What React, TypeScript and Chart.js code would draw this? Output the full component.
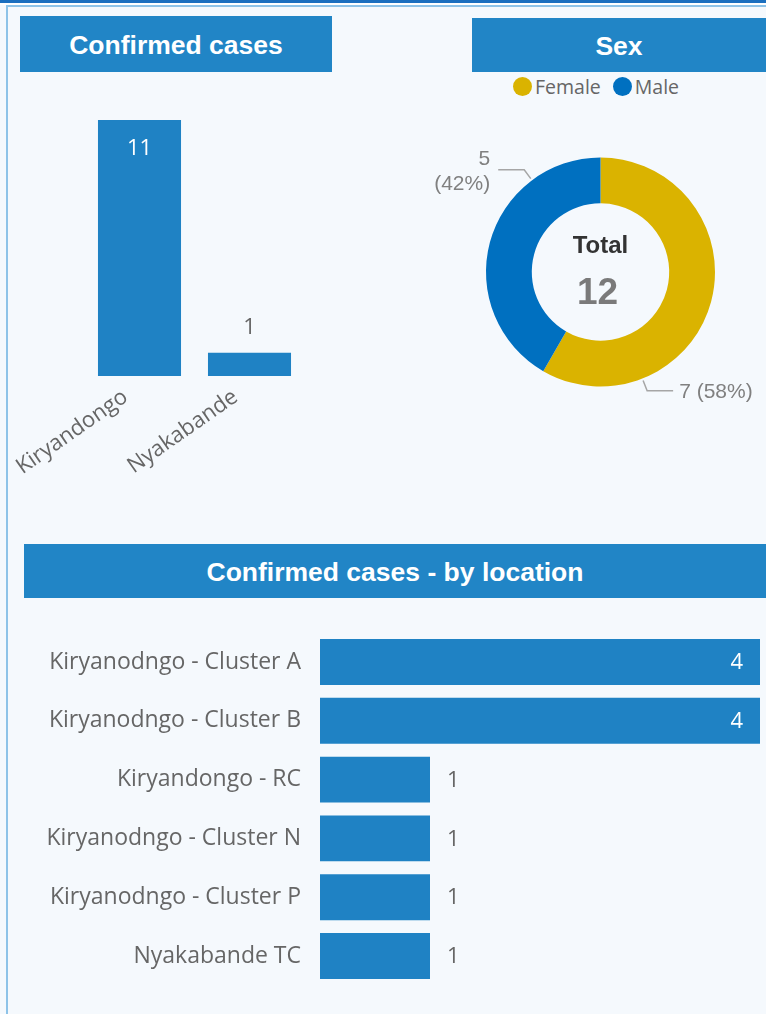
import React, { useEffect, useRef } from "react";
import { Chart, registerables } from "chart.js";

Chart.register(...registerables);

const areaLabels = ["Kiryandongo", "Nyakabande"];
const areaCases = [11, 1];

const sexLabels = ["Female", "Male"];
const sexCases = [7, 5];
const sexColors = ["#dab300", "#0070c0"];

const locationLabels = [
  "Kiryanodngo - Cluster A",
  "Kiryanodngo - Cluster B",
  "Kiryandongo - RC",
  "Kiryanodngo - Cluster N",
  "Kiryanodngo - Cluster P",
  "Nyakabande TC",
];
const locationCases = [4, 4, 1, 1, 1, 1];

const BAR = "#1f82c4";
const HEAD = "#2185c6";
const BG = "#f5f9fd";
const UI_FONT = "'Open Sans', 'Noto Sans', sans-serif";
const HEAD_FONT = "'Liberation Sans', Arial, sans-serif";

const columnLabels = {
  id: "columnLabels",
  afterDatasetsDraw(chart: any) {
    const ctx = chart.ctx;
    const meta = chart.getDatasetMeta(0);
    const data = chart.data.datasets[0].data;
    ctx.save();
    ctx.font = `22px ${UI_FONT}`;
    ctx.textAlign = "center";
    ctx.textBaseline = "middle";
    meta.data.forEach((bar: any, i: number) => {
      const h = bar.base - bar.y;
      if (h > 60) {
        ctx.fillStyle = "#ffffff";
        ctx.fillText(String(data[i]), bar.x, bar.y + 29);
      } else {
        ctx.fillStyle = "#666666";
        ctx.fillText(String(data[i]), bar.x, bar.y - 25);
      }
    });
    ctx.restore();
  },
};

const rowLabels = {
  id: "rowLabels",
  afterDatasetsDraw(chart: any) {
    const ctx = chart.ctx;
    const meta = chart.getDatasetMeta(0);
    const data = chart.data.datasets[0].data;
    ctx.save();
    ctx.font = `22px ${UI_FONT}`;
    ctx.textBaseline = "middle";
    meta.data.forEach((bar: any, i: number) => {
      const w = bar.x - bar.base;
      if (w > 200) {
        ctx.fillStyle = "#ffffff";
        ctx.textAlign = "right";
        ctx.fillText(String(data[i]), bar.x - 17, bar.y + 1);
      } else {
        ctx.fillStyle = "#666666";
        ctx.textAlign = "left";
        ctx.fillText(String(data[i]), bar.x + 17, bar.y + 1);
      }
    });
    ctx.restore();
  },
};

const donutDecor = {
  id: "donutDecor",
  afterDatasetsDraw(chart: any) {
    const ctx = chart.ctx;
    const meta = chart.getDatasetMeta(0);
    const data: number[] = chart.data.datasets[0].data;
    const total = data.reduce((a, b) => a + b, 0);
    ctx.save();
    meta.data.forEach((arc: any, i: number) => {
      const a = arc.startAngle + 0.755 * (arc.endAngle - arc.startAngle);
      const R = arc.outerRadius;
      const cx = arc.x;
      const cy = arc.y;
      const x1 = cx + Math.cos(a) * (R + 2);
      const y1 = cy + Math.sin(a) * (R + 2);
      const x2 = cx + Math.cos(a) * (R + 13);
      const y2 = cy + Math.sin(a) * (R + 13);
      const dir = Math.cos(a) < 0 ? -1 : 1;
      const x3 = x2 + dir * 26;
      ctx.strokeStyle = "#a6a6a6";
      ctx.lineWidth = 1.5;
      ctx.beginPath();
      ctx.moveTo(x1, y1);
      ctx.lineTo(x2, y2);
      ctx.lineTo(x3, y2);
      ctx.stroke();
      const pct = Math.round((data[i] / total) * 100);
      ctx.fillStyle = "#808080";
      ctx.font = `21px ${HEAD_FONT}`;
      ctx.textBaseline = "middle";
      if (dir < 0) {
        ctx.textAlign = "right";
        ctx.fillText(String(data[i]), x3 - 8, y2 - 11);
        ctx.fillText(`(${pct}%)`, x3 - 8, y2 + 14);
      } else {
        ctx.textAlign = "left";
        ctx.fillText(`${data[i]} (${pct}%)`, x3 + 6, y2 + 2);
      }
    });
    const first = meta.data[0];
    if (first) {
      ctx.textAlign = "center";
      ctx.textBaseline = "middle";
      ctx.fillStyle = "#333333";
      ctx.font = `bold 24px ${HEAD_FONT}`;
      ctx.fillText("Total", first.x, first.y - 26);
      ctx.fillStyle = "#7a7a7a";
      ctx.font = `bold 37px ${HEAD_FONT}`;
      ctx.fillText(String(total), first.x - 3, first.y + 22);
    }
    ctx.restore();
  },
};

function Header({ left, top, width, height, text }: any) {
  return (
    <div
      style={{
        position: "absolute",
        left,
        top,
        width,
        height,
        boxSizing: "border-box",
        paddingTop: 3,
        background: HEAD,
        color: "#ffffff",
        fontFamily: HEAD_FONT,
        fontWeight: "bold",
        fontSize: 26.5,
        display: "flex",
        alignItems: "center",
        justifyContent: "center",
      }}
    >
      {text}
    </div>
  );
}

export default function App() {
  const c1 = useRef<HTMLCanvasElement>(null);
  const c2 = useRef<HTMLCanvasElement>(null);
  const c3 = useRef<HTMLCanvasElement>(null);

  useEffect(() => {
    const charts: Chart[] = [];
    charts.push(
      new Chart(c1.current as HTMLCanvasElement, {
        type: "bar",
        data: {
          labels: areaLabels,
          datasets: [
            {
              data: areaCases,
              backgroundColor: BAR,
              barPercentage: 0.755,
              categoryPercentage: 1,
            },
          ],
        },
        options: {
          responsive: false,
          animation: false,
          layout: { padding: { left: 84.5, right: 25.5, top: 20, bottom: 0 } },
          plugins: { legend: { display: false }, tooltip: { enabled: false } },
          scales: {
            y: { display: false, min: 0, max: 11 },
            x: {
              grid: { display: false, drawTicks: false },
              border: { display: false },
              ticks: {
                color: "#666666",
                font: { family: UI_FONT, size: 22 },
                minRotation: 35,
                maxRotation: 35,
                padding: 8,
                labelOffset: -14,
              },
              afterFit: (s: any) => {
                s.height = 114;
                s.paddingLeft = 0;
                s.paddingRight = 0;
              },
            },
          },
        },
        plugins: [columnLabels],
      } as any)
    );

    charts.push(
      new Chart(c2.current as HTMLCanvasElement, {
        type: "doughnut",
        data: {
          labels: sexLabels,
          datasets: [
            {
              data: sexCases,
              backgroundColor: sexColors,
              borderWidth: 0,
            },
          ],
        },
        options: {
          responsive: false,
          animation: false,
          cutout: "60%",
          layout: { padding: { left: 86, right: 51, top: 57.5, bottom: 43.5 } },
          plugins: { legend: { display: false }, tooltip: { enabled: false } },
        },
        plugins: [donutDecor],
      } as any)
    );

    charts.push(
      new Chart(c3.current as HTMLCanvasElement, {
        type: "bar",
        data: {
          labels: locationLabels,
          datasets: [
            {
              data: locationCases,
              backgroundColor: BAR,
              barPercentage: 0.78,
              categoryPercentage: 1,
            },
          ],
        },
        options: {
          indexAxis: "y",
          responsive: false,
          animation: false,
          layout: { padding: { left: 0, right: 6, top: 12.6, bottom: 28.6 } },
          plugins: { legend: { display: false }, tooltip: { enabled: false } },
          scales: {
            x: { display: false, min: 0, max: 4 },
            y: {
              grid: { display: false, drawTicks: false },
              border: { display: false },
              ticks: {
                color: "#666666",
                font: { family: UI_FONT, size: 23 },
                padding: 19,
              },
              afterFit: (s: any) => {
                s.width = 320;
                s.paddingTop = 0;
                s.paddingBottom = 0;
              },
            },
          },
        },
        plugins: [rowLabels],
      } as any)
    );
    return () => charts.forEach((c) => c.destroy());
  }, []);

  return (
    <div
      style={{
        position: "absolute",
        left: 0,
        top: 0,
        width: 766,
        height: 1014,
        background: BG,
        overflow: "hidden",
      }}
    >
      <div style={{ position: "absolute", left: 0, top: 0, width: 766, height: 3, background: "#1b6fbf" }} />
      <div style={{ position: "absolute", left: 0, top: 3, width: 766, height: 2, background: "#ffffff" }} />
      <div style={{ position: "absolute", left: 6, top: 5, width: 760, height: 2, background: "#8ec3e8" }} />
      <div style={{ position: "absolute", left: 6, top: 5, width: 2, height: 1009, background: "#8ec3e8" }} />

      <Header left={20} top={16} width={312} height={56} text="Confirmed cases" />
      <Header left={472} top={18} width={294} height={54} text="Sex" />
      <Header left={24} top={544} width={742} height={54} text="Confirmed cases - by location" />

      <div
        style={{
          position: "absolute",
          left: 513,
          top: 75,
          display: "flex",
          alignItems: "center",
          fontFamily: UI_FONT,
          fontSize: 19.5,
          color: "#666666",
          whiteSpace: "nowrap",
          height: 22,
        }}
      >
        {sexLabels.map((l, i) => (
          <span key={l} style={{ display: "flex", alignItems: "center", marginRight: 12 }}>
            <span
              style={{
                display: "inline-block",
                width: 19,
                height: 19,
                borderRadius: "50%",
                background: sexColors[i],
                marginRight: 3,
              }}
            />
            <span>{l}</span>
          </span>
        ))}
      </div>

      <canvas
        ref={c1}
        width={330}
        height={390}
        style={{ position: "absolute", left: 0, top: 100, width: 330, height: 390 }}
      />
      <canvas
        ref={c2}
        width={366}
        height={330}
        style={{ position: "absolute", left: 400, top: 100, width: 366, height: 330 }}
      />
      <canvas
        ref={c3}
        width={766}
        height={394}
        style={{ position: "absolute", left: 0, top: 620, width: 766, height: 394 }}
      />
    </div>
  );
}
